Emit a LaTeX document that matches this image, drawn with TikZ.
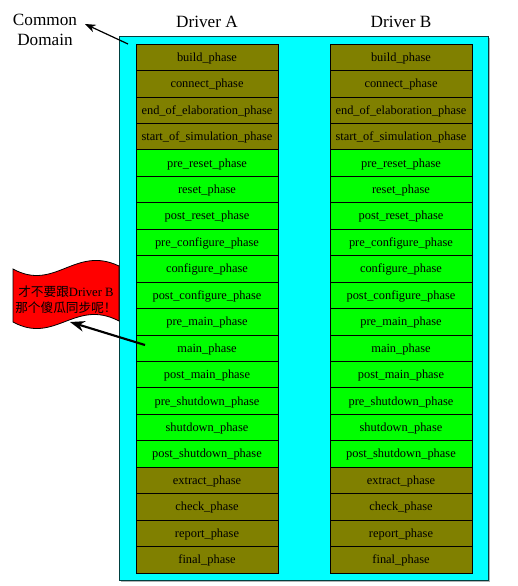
\documentclass[tikz,border=0pt]{standalone}
\usepackage{fontspec}
\setmainfont{Liberation Serif}
\newfontfamily\cjk{Noto Sans CJK SC}
\usetikzlibrary{arrows.meta}
\definecolor{olivec}{HTML}{808000}
\definecolor{limec}{HTML}{00FF00}
\definecolor{cyanc}{HTML}{00FFFF}
\definecolor{redc}{HTML}{FF0000}
\begin{document}
\begin{tikzpicture}[x=0.75pt,y=-0.75pt,
  phasebox/.style={draw=black, line width=0.6pt, minimum width=106.5pt, minimum height=19.84pt,
    inner sep=0pt, outer sep=0pt, text height=8pt, text depth=2pt, font=\fontsize{9.3}{11}\selectfont},
  header/.style={font=\fontsize{12.9}{15}\selectfont, inner sep=0pt},
  callarrow/.style={-{Stealth[length=8pt,width=6pt]}, line width=0.9pt},
  flagarrow/.style={-{Stealth[length=11pt,width=8pt]}, line width=1.6pt},
  ]
\useasboundingbox (0,0) rectangle (518,586);
% common domain box with shadow
\fill[gray!60] (121,38) rectangle (490,582);
\draw[fill=cyanc, draw=teal!50!black, line width=0.6pt] (119,36) rectangle (488,580);
% phase columns
\foreach \name [count=\i] in {build,connect,end\_of\_elaboration,start\_of\_simulation,
  pre\_reset,reset,post\_reset,pre\_configure,configure,post\_configure,
  pre\_main,main,post\_main,pre\_shutdown,shutdown,post\_shutdown,
  extract,check,report,final}{
  \pgfmathsetmacro\yy{44+(\i-0.5)*26.45}
  \ifnum\i<5 \def\cc{olivec}\else\ifnum\i>16 \def\cc{olivec}\else\def\cc{limec}\fi\fi
  \node[phasebox, fill=\cc] (a\i) at (207,\yy) {\name\_phase};
  \node[phasebox, fill=\cc] (b\i) at (401,\yy) {\name\_phase};
}
% headers
\node[header] (hA) at (207,22) {Driver A};
\node[header] (hB) at (401,22) {Driver B};
\node[header, align=center] (cd) at (45,30) {Common\\Domain};
\coordinate (cdtail) at (128,44);
\coordinate (cdtip) at (85,24);
\draw[callarrow] (cdtail) -- (cdtip);
% flag
\draw[fill=redc, line width=0.6pt] (13,269) .. controls (55,292) and (75,245) .. (119,266)
  -- (119,321) .. controls (75,298) and (55,345) .. (13,322) -- cycle;
\node[align=center, font=\fontsize{9.5}{12}\selectfont, inner sep=0pt] (flagtxt) at (66,300)
  {{\cjk 才不要跟}Driver B\\{\cjk 那个傻瓜同步呢！}};
\coordinate (maintail) at (145,345);
\coordinate (flagtip) at (70,322);
\draw[flagarrow] (maintail) -- (flagtip);
\end{tikzpicture}
\end{document}
